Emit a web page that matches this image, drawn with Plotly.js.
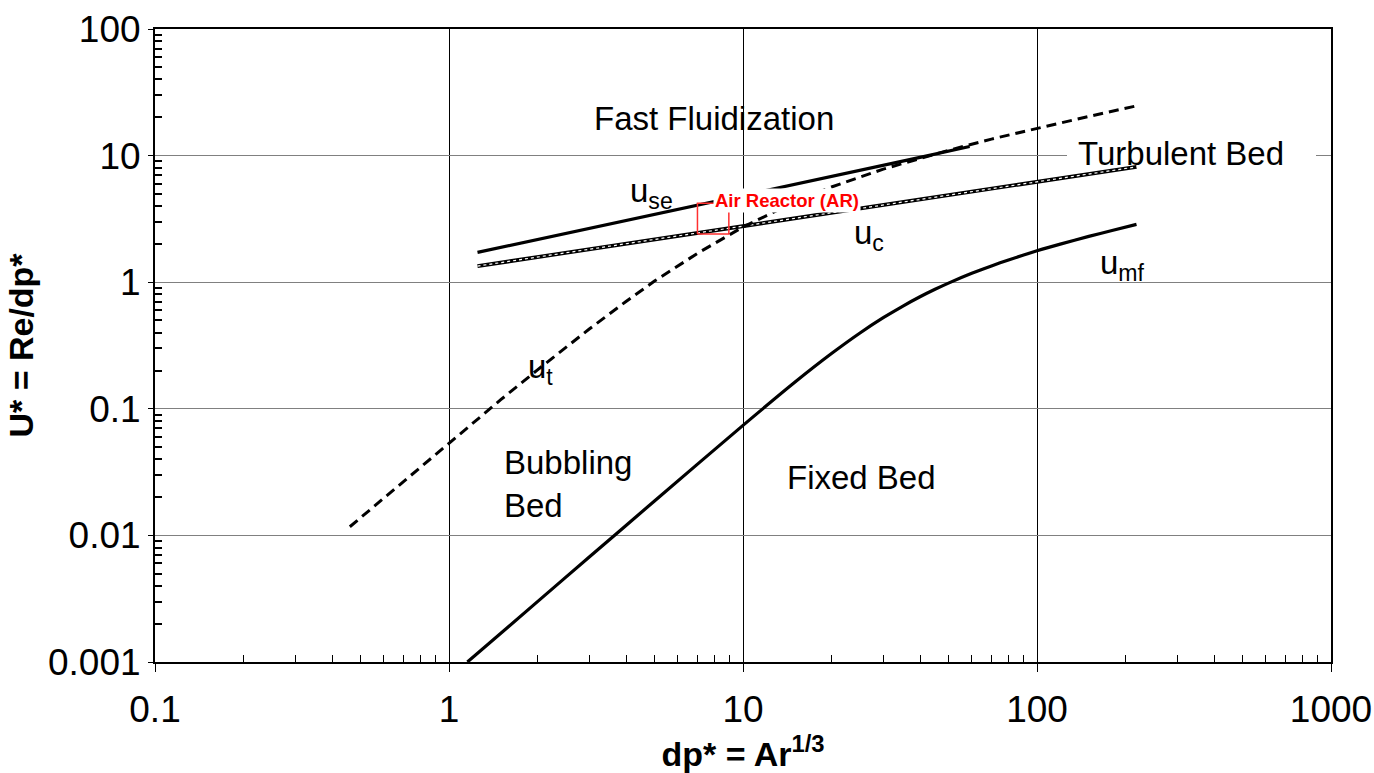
<!DOCTYPE html>
<html>
<head>
<meta charset="utf-8">
<script src="https://cdn.plot.ly/plotly-3.0.1.min.js"></script>
<style>html,body{margin:0;padding:0;background:#fff;}#chart{width:1374px;height:773px;}</style>
</head>
<body>
<div id="chart"></div>
<script>
// u_se (solid)
var useX = [1.25, 2, 5, 10, 20, 40, 59];
var useY = [1.72, 2.17, 3.42, 4.84, 6.84, 9.68, 11.8];
// u_c (dotted double line)
var ucX = [1.25, 2, 5, 10, 20, 50, 100, 218];
var ucY = [1.34, 1.58, 2.18, 2.77, 3.53, 4.85, 6.17, 8.15];
// u_t (dashed)
var utX = [0.46, 0.7, 1, 1.5, 2, 3, 4, 5, 7, 10, 15, 20, 30, 40, 50, 70, 100, 150, 218];
var utY = [0.0117, 0.0267, 0.0538, 0.118, 0.203, 0.427, 0.704, 1.02, 1.69, 2.73, 4.30, 5.65, 7.82, 9.55, 11.0, 13.5, 16.4, 20.4, 24.7];
// u_mf (solid)
var umfX = [1.155, 2, 3, 5, 10, 15, 20, 25, 30, 35, 40, 45, 50, 60, 70, 80, 100, 120, 150, 180, 218];
var umfY = [0.001, 0.003, 0.00675, 0.0187, 0.074, 0.162, 0.273, 0.397, 0.524, 0.648, 0.767, 0.879, 0.984, 1.176, 1.345, 1.498, 1.77, 2.00, 2.30, 2.56, 2.86];
// Air reactor box
var arX = [7.0, 8.95];
var arY = [2.4, 4.2];

var xTickVals = [0.1, 1, 10, 100, 1000];
var xTickText = ['0.1', '1', '10', '100', '1000'];
var yTickVals = [0.001, 0.01, 0.1, 1, 10, 100];
var yTickText = ['0.001', '0.01', '0.1', '1', '10', '100'];

function minorVals(lo, hi) {
  var v = [];
  for (var d = lo; d < hi; d++) {
    for (var k = 2; k <= 9; k++) v.push(k * Math.pow(10, d));
  }
  return v;
}

var FONT = 'Liberation Sans, Arial, sans-serif';

var traces = [
  {x: useX, y: useY, mode: 'lines', line: {color: 'black', width: 3.2}, hoverinfo: 'skip'},
  {x: ucX, y: ucY, mode: 'lines', line: {color: 'black', width: 3.8}, hoverinfo: 'skip'},
  {x: ucX, y: ucY, mode: 'lines', line: {color: 'white', width: 1.2, dash: 'dot'}, hoverinfo: 'skip'},
  {x: utX, y: utY, mode: 'lines', line: {color: 'black', width: 3, dash: '10px,6px'}, hoverinfo: 'skip'},
  {x: umfX, y: umfY, mode: 'lines', line: {color: 'black', width: 3.2, shape: 'spline', smoothing: 0.6}, hoverinfo: 'skip'},
  {x: [arX[0], arX[1], arX[1], arX[0], arX[0]], y: [arY[0], arY[0], arY[1], arY[1], arY[0]],
   mode: 'lines', line: {color: '#ff3030', width: 1.5}, hoverinfo: 'skip'}
];

function lx(px) { return (px - 155) / 294 - 1; }
function ly(py) { return (282 - py) / 126.6; }

var annFont = {family: FONT, size: 33, color: 'black'};
var annotations = [
  {x: lx(714), y: ly(118), text: 'Fast Fluidization', showarrow: false, font: annFont},
  {x: lx(1181), y: ly(153), text: 'Turbulent Bed', showarrow: false, font: annFont},
  {x: lx(651), y: ly(193), text: 'u<sub>se</sub>', showarrow: false, font: annFont},
  {x: lx(787), y: ly(200), text: '<b>Air Reactor (AR)</b>', showarrow: false, font: {family: FONT, size: 18.5, color: '#ff0000'}, bgcolor: 'white', borderpad: 1},
  {x: lx(869), y: ly(235), text: 'u<sub>c</sub>', showarrow: false, font: annFont},
  {x: lx(1122), y: ly(265), text: 'u<sub>mf</sub>', showarrow: false, font: annFont},
  {x: lx(540), y: ly(369), text: 'u<sub>t</sub>', showarrow: false, font: annFont},
  {x: lx(502), y: ly(484), text: 'Bubbling<br>Bed', showarrow: false, font: annFont, xanchor: 'left', align: 'left'},
  {x: lx(861), y: ly(477), text: 'Fixed Bed', showarrow: false, font: annFont}
];

// white patch hiding the gridline behind "Turbulent Bed" (above grid, below traces)
var shapes = [
  {type: 'rect', layer: 'between', xref: 'x', yref: 'y',
   x0: Math.pow(10, lx(1067)), x1: Math.pow(10, lx(1316)),
   y0: Math.pow(10, ly(162)), y1: Math.pow(10, ly(147)),
   fillcolor: 'white', line: {width: 0}}
];

var layout = {
  width: 1374, height: 773,
  margin: {l: 155, r: 43, t: 29, b: 111},
  paper_bgcolor: 'white', plot_bgcolor: 'white',
  showlegend: false,
  font: {family: FONT, color: 'black'},
  xaxis: {
    type: 'log', range: [-1, 3],
    tickmode: 'array', tickvals: xTickVals, ticktext: xTickText,
    tickfont: {family: FONT, size: 37, color: 'black'},
    ticks: 'outside', ticklen: 8, tickwidth: 1, tickcolor: 'black',
    ticklabelstandoff: 6,
    showline: true, linecolor: 'black', linewidth: 2, mirror: true,
    showgrid: true, gridcolor: 'black', gridwidth: 1,
    zeroline: false,
    minor: {tickmode: 'array', tickvals: minorVals(-1, 3), ticks: 'inside', ticklen: 7, tickwidth: 1, tickcolor: 'black', showgrid: false},
    title: {text: '<b>dp* = Ar<sup>1/3</sup></b>', font: {family: FONT, size: 34, color: 'black'}, standoff: 10}
  },
  yaxis: {
    type: 'log', range: [-3, 2],
    tickmode: 'array', tickvals: yTickVals, ticktext: yTickText,
    tickfont: {family: FONT, size: 37, color: 'black'},
    ticks: 'outside', ticklen: 5, tickwidth: 1, tickcolor: 'black',
    showline: true, linecolor: 'black', linewidth: 2, mirror: true,
    showgrid: true, gridcolor: '#808080', gridwidth: 1,
    zeroline: false,
    minor: {tickmode: 'array', tickvals: minorVals(-3, 2), ticks: 'inside', ticklen: 7, tickwidth: 2, tickcolor: 'black', showgrid: false},
    title: {text: '<b>U* = Re/dp*</b>', font: {family: FONT, size: 34, color: 'black'}, standoff: 4}
  },
  shapes: shapes,
  annotations: annotations
};

Plotly.newPlot('chart', traces, layout, {displayModeBar: false, staticPlot: true});
</script>
</body>
</html>
